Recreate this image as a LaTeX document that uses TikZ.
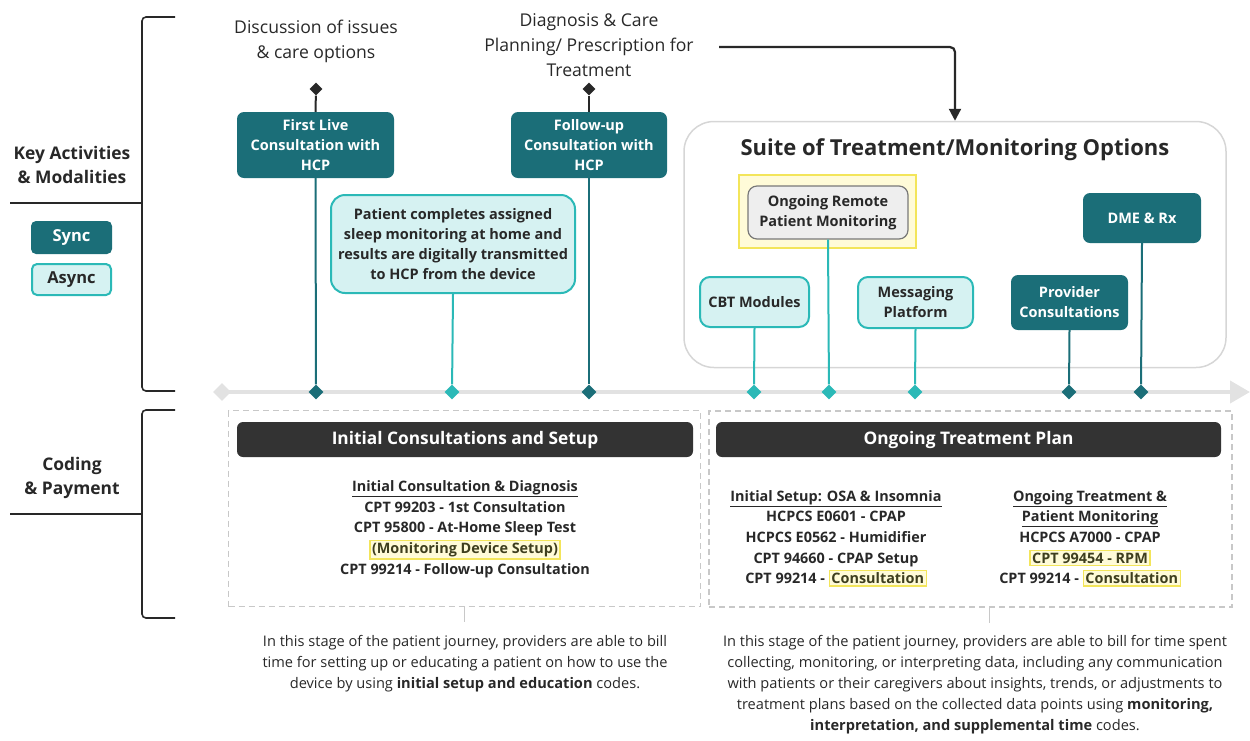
\documentclass[tikz,border=0pt]{standalone}
\usepackage{fontspec}
\setmainfont{Open Sans}
\usepackage{xcolor}
\usetikzlibrary{shapes.geometric, arrows.meta, positioning, backgrounds}
\definecolor{syncteal}{RGB}{27,110,120}
\definecolor{asyncfill}{RGB}{214,242,242}
\definecolor{asyncteal}{RGB}{43,185,183}
\definecolor{inkdark}{RGB}{40,40,40}
\definecolor{lanegray}{RGB}{226,226,226}
\definecolor{headgray}{RGB}{51,51,51}
\definecolor{dashgray}{RGB}{200,200,200}
\definecolor{hlborder}{RGB}{243,229,90}
\definecolor{hlfill}{RGB}{255,251,216}
\definecolor{hltext}{RGB}{62,62,30}
\definecolor{rpmfill}{RGB}{238,238,238}
\definecolor{rpmedge}{RGB}{120,120,120}
\definecolor{suiteedge}{RGB}{214,214,214}

\setlength{\fboxrule}{1.2pt}
\newcommand{\hlmark}[1]{\smash{\setlength{\fboxsep}{1.5pt}\fcolorbox{hlborder}{hlfill}{\color{hltext}#1}}}

\tikzset{
  syncbox/.style={fill=syncteal, text=white, rounded corners=7pt, align=center, inner sep=2pt,
    font=\fontsize{14.5}{20}\selectfont\bfseries},
  asyncbox/.style={draw=asyncteal, line width=2pt, fill=asyncfill, text=inkdark, rounded corners=9pt,
    align=center, inner sep=2pt, font=\fontsize{14.5}{20}\selectfont\bfseries},
  syncmark/.style={diamond, fill=syncteal, inner sep=0pt, minimum size=15pt},
  asyncmark/.style={diamond, fill=asyncteal, inner sep=0pt, minimum size=15pt},
  topmark/.style={diamond, fill=inkdark, inner sep=0pt, minimum size=13pt},
  syncstem/.style={draw=syncteal, line width=2pt},
  asyncstem/.style={draw=asyncteal, line width=2pt},
  topstem/.style={draw=inkdark, line width=2pt},
  bracket/.style={draw=inkdark, line width=1.6pt, rounded corners=4pt},
  lanehead/.style={fill=headgray, text=white, rounded corners=6pt, inner sep=0pt,
    font=\fontsize{17.3}{20}\selectfont\bfseries},
  codebox/.style={draw=dashgray, dash pattern=on 6pt off 4pt, line width=1.2pt, inner sep=0pt},
  codes/.style={align=center, text=inkdark, font=\fontsize{14.4}{20.7}\selectfont\bfseries},
  notetext/.style={align=center, text=inkdark, font=\fontsize{14.6}{21}\selectfont},
  toplabel/.style={align=center, text=inkdark, font=\fontsize{17.6}{25}\selectfont},
  sidelabel/.style={align=center, text=inkdark, font=\fontsize{17.4}{24}\selectfont\bfseries},
  stub/.style={draw=dashgray, line width=1.2pt}
}

\begin{document}
\begin{tikzpicture}[x=1pt, y=-1pt]
\useasboundingbox (0,0) rectangle (1250,740);

% row labels and brackets
\node[sidelabel] (keyact) at (72,165) {Key Activities\\\& Modalities};
\node[sidelabel] (coding) at (72,478) {Coding\\\& Payment};
\draw[bracket] (175,17) -- (142,17) -- (142,391) -- (175,391);
\draw[bracket] (10,203) -- (142,203);
\draw[bracket] (175,410) -- (142,410) -- (142,618) -- (175,618);
\draw[bracket] (10,514) -- (142,514);

\node[syncbox, minimum width=81pt, minimum height=33pt, rounded corners=5pt, font=\fontsize{16.5}{20}\selectfont\bfseries] (legsync) at (71.5,237.5) {Sync};
\node[asyncbox, minimum width=79pt, minimum height=31pt, rounded corners=5pt, font=\fontsize{16.5}{20}\selectfont\bfseries] (legasync) at (71.5,279.5) {Async};

% timeline markers
\node[diamond, fill=lanegray, inner sep=0pt, minimum size=18pt] (m0) at (222,392) {};
\coordinate (laneend) at (1250,392);
\node[syncmark] (m1) at (316,392) {};
\node[asyncmark] (m2) at (452,392) {};
\node[syncmark] (m3) at (589,392) {};
\node[asyncmark] (m4) at (754,392) {};
\node[asyncmark] (m5) at (829,392) {};
\node[asyncmark] (m6) at (915,392) {};
\node[syncmark] (m7) at (1069,392) {};
\node[syncmark] (m8) at (1141,392) {};
\begin{pgfonlayer}{background}
\draw[line width=4pt, lanegray, -{Triangle[length=20pt, width=22pt]}] (m0.center) -- (laneend);
\end{pgfonlayer}

% activities
\node[toplabel] (discuss) at (316,41) {Discussion of issues\\\& care options};
\node[toplabel] (diag) at (589,45) {Diagnosis \& Care\\Planning/ Prescription for\\Treatment};
\node[topmark] (t1) at (316,89) {};
\node[topmark] (t2) at (589,89) {};

\node[syncbox, minimum width=157pt, minimum height=66pt] (first) at (315.5,145) {First Live\\Consultation with\\HCP};
\node[syncbox, minimum width=156pt, minimum height=66pt] (follow) at (589,145) {Follow-up\\Consultation with\\HCP};
\node[asyncbox, minimum width=244pt, minimum height=98pt, rounded corners=14pt] (athome) at (453,244)
  {Patient completes assigned\\sleep monitoring at home and\\results are digitally transmitted\\to HCP from the device};

\draw[topstem] (t1) -- (first.north);
\draw[topstem] (t2) -- (follow.north);
\draw[syncstem] (first.south) -- (m1);
\draw[asyncstem] (athome.south) -- (m2);
\draw[syncstem] (follow.south) -- (m3);

% suite of options
\node[draw=suiteedge, line width=1.5pt, rounded corners=30pt, minimum width=542pt, minimum height=246pt] (suite) at (955,244.5) {};
\node[text=inkdark, font=\fontsize{22}{26}\selectfont\bfseries] (suitetitle) at (955,150) {Suite of Treatment/Monitoring Options};
\draw[draw=inkdark, line width=2.2pt, rounded corners=5pt, -{Triangle[length=12pt, width=12pt]}] ([xshift=22pt, yshift=-2pt]diag.east) -| (suite.north);

\node[draw=hlborder, line width=1.5pt, fill=hlfill, minimum width=177pt, minimum height=73pt] (rpmglow) at (827.5,211.5) {};
\node[draw=rpmedge, line width=1.2pt, fill=rpmfill, rounded corners=9pt, text=inkdark, align=center, inner sep=2pt,
  minimum width=160pt, minimum height=53pt, font=\fontsize{14.5}{20}\selectfont\bfseries] (rpm) at (828,212.5) {Ongoing Remote\\Patient Monitoring};
\node[syncbox, minimum width=118pt, minimum height=50pt] (dme) at (1142,218) {DME \& Rx};
\node[asyncbox, minimum width=109pt, minimum height=50pt, rounded corners=10pt] (cbt) at (754.5,302) {CBT Modules};
\node[asyncbox, minimum width=115pt, minimum height=51pt, rounded corners=10pt] (msg) at (915.5,302.5) {Messaging\\Platform};
\node[syncbox, minimum width=117pt, minimum height=55pt] (prov) at (1069.5,302.5) {Provider\\Consultations};

\draw[asyncstem] (cbt.south) -- (m4);
\draw[asyncstem] (rpm.south) -- (m5);
\draw[asyncstem] (msg.south) -- (m6);
\draw[syncstem] (prov.south) -- (m7);
\draw[syncstem] (dme.south) -- (m8);

% coding and payment
\node[codebox, minimum width=472pt, minimum height=196pt] (setupbox) at (464.5,508.5) {};
\node[lanehead, minimum width=456pt, minimum height=35pt] (setuphead) at (465,439.5) {Initial Consultations and Setup};
\node[codes] (setupcodes) at (465,529) {\underline{Initial Consultation \& Diagnosis}\\
  CPT 99203 - 1st Consultation\\
  CPT 95800 - At-Home Sleep Test\\
  \hlmark{(Monitoring Device Setup)}\\
  CPT 99214 - Follow-up Consultation};

\node[codebox, minimum width=523pt, minimum height=196pt] (planbox) at (970.5,509) {};
\node[lanehead, minimum width=505pt, minimum height=35pt] (planhead) at (968.5,439.5) {Ongoing Treatment Plan};
\node[codes] (plancodesa) at (836,537) {\underline{Initial Setup: OSA \& Insomnia}\\
  HCPCS E0601 - CPAP\\
  HCPCS E0562 - Humidifier\\
  CPT 94660 - CPAP Setup\\
  CPT 99214 - \hlmark{Consultation}};
\node[codes] (plancodesb) at (1090,537) {\underline{Ongoing Treatment \&}\\
  \underline{Patient Monitoring}\\
  HCPCS A7000 - CPAP\\
  \hlmark{CPT 99454 - RPM}\\
  CPT 99214 - \hlmark{Consultation}};

\draw[stub] (setupbox.south) -- ++(0,15);
\draw[stub] ([xshift=19pt]planbox.south) -- ++(0,15);

\node[notetext] (setupnote) at (465,664) {In this stage of the patient journey, providers are able to bill\\
  time for setting up or educating a patient on how to use the\\
  device by using \textbf{initial setup and education} codes.};
\node[notetext] (plannote) at (975,685) {In this stage of the patient journey, providers are able to bill for time spent\\
  collecting, monitoring, or interpreting data, including any communication\\
  with patients or their caregivers about insights, trends, or adjustments to\\
  treatment plans based on the collected data points using \textbf{monitoring,}\\
  \textbf{interpretation, and supplemental time} codes.};
\end{tikzpicture}
\end{document}
